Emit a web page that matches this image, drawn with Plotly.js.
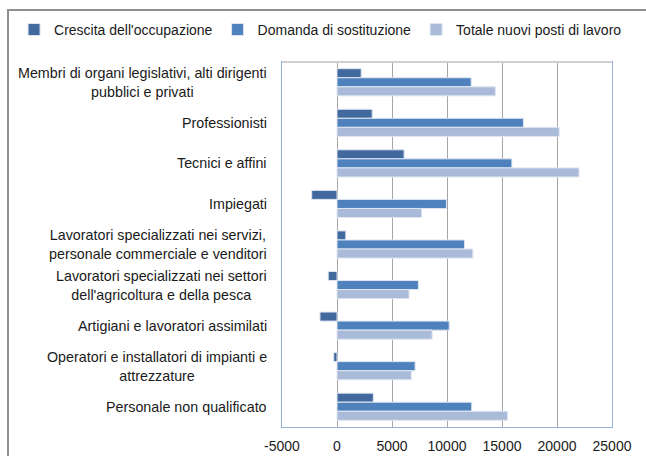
<!DOCTYPE html>
<html>
<head>
<meta charset="utf-8">
<script src="https://cdn.plot.ly/plotly-3.0.1.min.js"></script>
<style>
  body { margin: 0; background: #fff; }
  #frame { position: absolute; left: 7px; top: 9px; width: 650px; height: 460px;
           border-top: 2px solid #8f8f8f; border-left: 2px solid #8f8f8f; }
  #chart { position: absolute; left: 0; top: 0; width: 646px; height: 456px; }
</style>
</head>
<body>
<div id="frame"></div>
<div id="chart"></div>
<script>
var categories = [
    "Membri di organi legislativi, alti dirigenti<br>pubblici e privati",
    "Professionisti",
    "Tecnici e affini",
    "Impiegati",
    "Lavoratori specializzati nei servizi,<br>personale commerciale e venditori",
    "Lavoratori specializzati nei settori<br>dell'agricoltura e della pesca",
    "Artigiani e lavoratori assimilati",
    "Operatori e installatori di impianti e<br>attrezzature",
    "Personale non qualificato"
];
var crescita = [2200, 3200, 6100, -2300, 800, -800, -1550, -300, 3300];
var domanda = [12200, 16950, 15900, 9950, 11600, 7400, 10200, 7100, 12250];
var totale = [14400, 20200, 22000, 7700, 12350, 6550, 8650, 6750, 15500];
var xTicks = [-5000, 0, 5000, 10000, 15000, 20000, 25000];

var font = {family: "Liberation Sans, Arial, sans-serif", size: 14.3, color: "#1a1a1a"};
var legendFont = {family: "Liberation Sans, Arial, sans-serif", size: 14, color: "#1a1a1a"};

function bar(name, values, color) {
    return {
        type: 'bar',
        orientation: 'h',
        name: name,
        y: categories,
        x: values,
        marker: {color: color, line: {color: '#dfe6f1', width: 1}}
    };
}

var data = [
    bar("Crescita dell'occupazione", crescita, '#41699e'),
    bar("Domanda di sostituzione", domanda, '#4f81bd'),
    bar("Totale nuovi posti di lavoro", totale, '#aabbd9')
];

// category labels as centred multi-line annotations
var annotations = categories.map(function (c) {
    return {
        xref: 'paper', yref: 'y', x: -0.04, y: c,
        xanchor: 'right', yanchor: 'middle', align: 'center',
        text: c, showarrow: false, font: font
    };
});

var layout = {
    width: 646,
    height: 456,
    margin: {l: 282, r: 34, t: 62, b: 29},
    paper_bgcolor: 'rgba(0,0,0,0)',
    plot_bgcolor: '#fff',
    font: font,
    barmode: 'group',
    bargap: 0.33,
    bargroupgap: 0,
    showlegend: true,
    legend: {
        orientation: 'h', x: -0.812, y: 1.044, xanchor: 'left', yanchor: 'bottom',
        font: legendFont, itemwidth: 30, tracegroupgap: 0, traceorder: 'normal'
    },
    xaxis: {
        range: [-5000, 25000],
        tickvals: xTicks,
        ticktext: xTicks.map(String),
        showgrid: true,
        gridcolor: '#a6a6a6',
        gridwidth: 1,
        zeroline: true,
        zerolinecolor: '#a6a6a6',
        zerolinewidth: 1,
        showline: true,
        linecolor: '#95b3d7',
        linewidth: 1,
        mirror: true,
        ticks: '',
        ticklabelstandoff: 6,
        tickfont: {family: font.family, size: 14, color: font.color}
    },
    yaxis: {
        autorange: 'reversed',
        showticklabels: false,
        showgrid: false,
        showline: true,
        linecolor: '#95b3d7',
        linewidth: 1,
        mirror: true,
        ticks: ''
    },
    shapes: [{
        type: 'line', xref: 'paper', yref: 'paper', x0: 0, x1: 1, y0: 1, y1: 1,
        line: {color: '#d0d0d0', width: 2}
    }],
    annotations: annotations
};

Plotly.newPlot('chart', data, layout, {staticPlot: true});
</script>
</body>
</html>
